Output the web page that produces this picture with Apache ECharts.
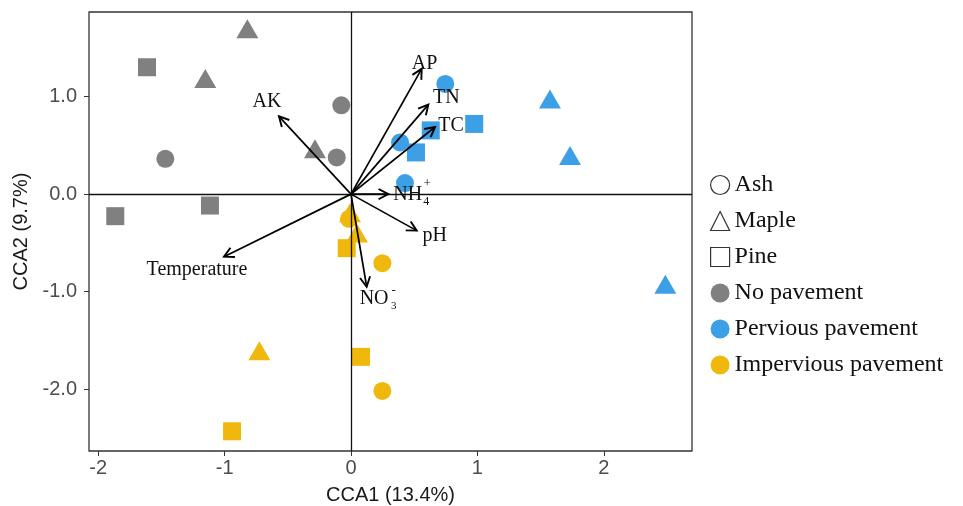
<!DOCTYPE html>
<html>
<head>
<meta charset="utf-8">
<script src="https://cdn.jsdelivr.net/npm/echarts@6/dist/echarts.min.js"></script>
<style>
  html, body { margin: 0; padding: 0; background: #fff; }
  #main { width: 963px; height: 506px; }
</style>
</head>
<body>
<div id="main"></div>
<script>
// 分组与物种
var groups = ['No pavement', 'Pervious pavement', 'Impervious pavement'];
var groupColors = ['#808080', '#3d9fe6', '#f0b80c'];
var species = ['Ash', 'Maple', 'Pine'];

// 样点坐标 [CCA1, CCA2]
var noPaveAsh = [[-0.077, 0.910], [-0.113, 0.376], [-1.469, 0.362]];
var noPaveMaple = [[-0.820, 1.694], [-1.153, 1.184], [-0.285, 0.465]];
var noPavePine = [[-1.614, 1.300], [-1.116, -0.117], [-1.865, -0.226]];

var perviousAsh = [[0.746, 1.129], [0.388, 0.530], [0.427, 0.113]];
var perviousMaple = [[1.574, 0.975], [1.733, 0.396], [2.487, -0.924]];
var perviousPine = [[0.975, 0.719], [0.631, 0.653], [0.514, 0.427]];

var imperviousAsh = [[0.248, -0.708], [0.248, -2.016], [-0.016, -0.253]];
var imperviousMaple = [[-0.725, -1.606], [-0.008, -0.190], [0.047, -0.398]];
var imperviousPine = [[-0.034, -0.554], [0.079, -1.667], [-0.941, -2.430]];

// 环境因子箭头
var envNames = ['AK', 'AP', 'TN', 'TC', 'NH4', 'pH', 'NO3', 'Temperature'];
var envX = [-0.570, 0.559, 0.612, 0.665, 0.295, 0.520, 0.124, -1.005];
var envY = [0.797, 1.283, 0.917, 0.688, 0.000, -0.374, -0.949, -0.641];

// 坐标轴刻度
var xTicks = [-2, -1, 0, 1, 2];
var yTicks = [-2, -1, 0, 1];

// 箭头文字相对箭头尖的偏移 [text, dx, dy, size, align]
var labelParts = {
    AK: [['AK', -12, -15, 20, 'center']],
    AP: [['AP', 3, -5, 20, 'center']],
    TN: [['TN', 18, -7, 20, 'center']],
    TC: [['TC', 16, -1, 20, 'center']],
    NH4: [['NH', 5, 1, 20, 'left'], ['4', 38, 8, 12, 'center'], ['+', 39, -11, 13, 'center']],
    pH: [['pH', 18, 5, 20, 'center']],
    NO3: [['NO', -7, 12, 20, 'left'], ['3', 27, 19, 11, 'center'], ['-', 27, 4, 13, 'center']],
    Temperature: [['Temperature', -27, 13, 20, 'center']]
};

var pointsBySpecies = {
    Ash: [noPaveAsh, perviousAsh, imperviousAsh],
    Maple: [noPaveMaple, perviousMaple, imperviousMaple],
    Pine: [noPavePine, perviousPine, imperviousPine]
};
var symbols = { Ash: 'circle', Maple: 'triangle', Pine: 'rect' };
var symbolSizes = { Ash: 18, Maple: [22, 19], Pine: 18 };

var chart = echarts.init(document.getElementById('main'));

var series = species.map(function (sp, si) {
    var data = [];
    pointsBySpecies[sp].forEach(function (pts, gi) {
        pts.forEach(function (p) { data.push([p[0], p[1], gi]); });
    });
    var s = {
        name: sp,
        type: 'scatter',
        symbol: symbols[sp],
        symbolSize: symbolSizes[sp],
        z: 2,
        itemStyle: {
            opacity: 1,
            color: function (params) { return groupColors[params.data[2]]; }
        },
        data: data
    };
    if (si === 0) {
        s.markLine = {
            silent: true,
            symbol: 'none',
            z: 3,
            label: { show: false },
            lineStyle: { color: '#111', width: 1.3, type: 'solid' },
            data: [{ xAxis: 0 }, { yAxis: 0 }]
        };
    }
    return s;
});

groups.forEach(function (g, gi) {
    series.push({ name: g, type: 'scatter', color: groupColors[gi], itemStyle: { opacity: 1 }, data: [] });
});

series.push({
    type: 'custom',
    z: 5,
    silent: true,
    data: envNames.map(function (n, i) { return [envX[i], envY[i]]; }),
    renderItem: function (params, api) {
        var o = api.coord([0, 0]);
        var p = api.coord([api.value(0), api.value(1)]);
        var ang = Math.atan2(p[1] - o[1], p[0] - o[0]);
        var h = 11, a = Math.PI / 6.5;
        var h1 = [p[0] - h * Math.cos(ang - a), p[1] - h * Math.sin(ang - a)];
        var h2 = [p[0] - h * Math.cos(ang + a), p[1] - h * Math.sin(ang + a)];
        var children = [
            { type: 'line', shape: { x1: o[0], y1: o[1], x2: p[0], y2: p[1] },
              style: { stroke: '#000', lineWidth: 1.7 } },
            { type: 'polyline', shape: { points: [h1, p, h2] },
              style: { stroke: '#000', lineWidth: 1.9, fill: null } }
        ];
        labelParts[envNames[params.dataIndex]].forEach(function (t) {
            children.push({
                type: 'text',
                x: p[0] + t[1],
                y: p[1] + t[2],
                style: {
                    text: t[0],
                    fill: '#111',
                    font: t[3] + 'px "Liberation Serif", "Times New Roman", serif',
                    align: t[4],
                    verticalAlign: 'middle'
                }
            });
        });
        return { type: 'group', children: children };
    }
});

var hollow = { color: '#fff', borderColor: '#333', borderWidth: 1.2 };
var legendData = [
    { name: 'Ash', icon: 'circle', itemStyle: hollow },
    { name: 'Maple', icon: 'triangle', itemStyle: hollow },
    { name: 'Pine', icon: 'rect', itemStyle: hollow },
    { name: 'No pavement', icon: 'circle' },
    { name: 'Pervious pavement', icon: 'circle' },
    { name: 'Impervious pavement', icon: 'circle' }
];

var axisFont = '"Liberation Sans", Arial, sans-serif';

var option = {
    animation: false,
    grid: {
        left: 89, top: 12, width: 603, height: 439,
        outerBoundsMode: 'none',
        containLabel: false,
        show: true, borderColor: '#333', borderWidth: 1.3, backgroundColor: 'transparent'
    },
    legend: {
        orient: 'vertical',
        left: 705,
        top: 168,
        itemWidth: 19,
        itemHeight: 19,
        itemGap: 12,
        selectedMode: false,
        textStyle: {
            fontFamily: '"Liberation Serif", "Times New Roman", serif',
            fontSize: 24,
            lineHeight: 22,
            color: '#111'
        },
        data: legendData
    },
    xAxis: {
        type: 'value',
        min: -2.073,
        max: 2.698,
        name: 'CCA1 (13.4%)',
        nameLocation: 'middle',
        nameGap: 34,
        nameTextStyle: { fontFamily: axisFont, fontSize: 20, color: '#1a1a1a' },
        axisLine: { show: false, onZero: false },
        axisTick: { show: true, inside: false, length: 5, customValues: xTicks, lineStyle: { color: '#333' } },
        axisLabel: { customValues: xTicks, margin: 7, fontFamily: axisFont, fontSize: 20, color: '#4d4d4d' },
        splitLine: { show: false }
    },
    yAxis: {
        type: 'value',
        min: -2.632,
        max: 1.866,
        name: 'CCA2 (9.7%)',
        nameLocation: 'middle',
        nameGap: 50,
        nameTextStyle: { fontFamily: axisFont, fontSize: 20, color: '#1a1a1a' },
        axisLine: { show: false, onZero: false },
        axisTick: { show: true, inside: false, length: 5, customValues: yTicks, lineStyle: { color: '#333' } },
        axisLabel: {
            customValues: yTicks, margin: 12,
            fontFamily: axisFont, fontSize: 20, color: '#4d4d4d',
            formatter: function (v) { return v.toFixed(1); }
        },
        splitLine: { show: false }
    },
    series: series
};

chart.setOption(option);
</script>
</body>
</html>
